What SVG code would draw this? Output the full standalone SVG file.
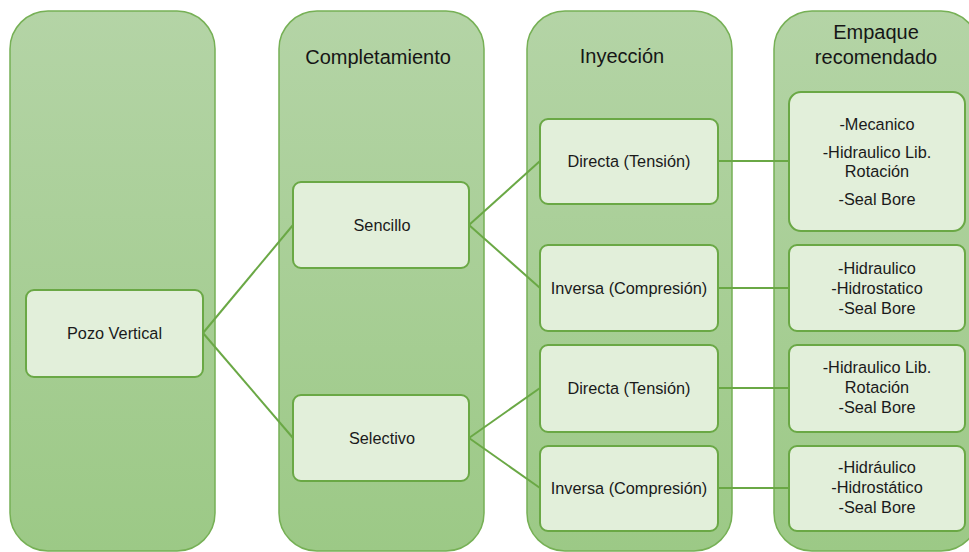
<svg xmlns="http://www.w3.org/2000/svg" width="969" height="552" viewBox="0 0 969 552">
<defs>
<linearGradient id="g" x1="0" y1="0" x2="0" y2="1">
<stop offset="0" stop-color="#b4d4a6"/>
<stop offset="1" stop-color="#9cc986"/>
</linearGradient>
<style>
.col{fill:url(#g);stroke:#76b055;stroke-width:1.5}
.node{fill:#e2efda;stroke:#6aa845;stroke-width:2}
.t{font-family:"Liberation Sans",Arial,sans-serif;font-size:16.3px;fill:#1a1a1a;text-anchor:middle}
.h{font-family:"Liberation Sans",Arial,sans-serif;font-size:20px;fill:#161616;text-anchor:middle}
.c{stroke:#6aa845;stroke-width:2;fill:none}
</style>
</defs>
<rect width="969" height="552" fill="#ffffff"/>
<g id="columns">
<rect class="col" x="10" y="11" width="205" height="540" rx="38"/>
<rect class="col" x="279" y="11" width="205" height="540" rx="38"/>
<rect class="col" x="527" y="11" width="205" height="540" rx="38"/>
<rect class="col" x="774" y="11" width="205" height="540" rx="38"/>
<text class="h" x="378" y="64">Completamiento</text>
<text class="h" x="622" y="63">Inyección</text>
<text class="h" x="876" y="39">Empaque</text>
<text class="h" x="876" y="64">recomendado</text>
</g>
<g id="connectors">
<line class="c" x1="203" y1="333" x2="293" y2="225"/>
<line class="c" x1="203" y1="333" x2="293" y2="438"/>
<line class="c" x1="469" y1="225" x2="540" y2="161"/>
<line class="c" x1="469" y1="225" x2="540" y2="288"/>
<line class="c" x1="469" y1="438" x2="540" y2="388"/>
<line class="c" x1="469" y1="438" x2="540" y2="488"/>
<line class="c" x1="718" y1="161" x2="789" y2="161"/>
<line class="c" x1="718" y1="288" x2="789" y2="288"/>
<line class="c" x1="718" y1="388" x2="789" y2="388"/>
<line class="c" x1="718" y1="488" x2="789" y2="488"/>
</g>
<g id="pozo">
<rect class="node" x="26" y="290" width="177" height="87" rx="8"/>
<text class="t" x="114.5" y="339">Pozo Vertical</text>
</g>
<g id="sencillo">
<rect class="node" x="293" y="182" width="176" height="86" rx="8"/>
<text class="t" x="382" y="231">Sencillo</text>
</g>
<g id="selectivo">
<rect class="node" x="293" y="395" width="176" height="86" rx="8"/>
<text class="t" x="382" y="444">Selectivo</text>
</g>
<g id="directa1">
<rect class="node" x="540" y="119" width="178" height="85" rx="8"/>
<text class="t" x="629" y="167">Directa (Tensión)</text>
</g>
<g id="inversa1">
<rect class="node" x="540" y="245" width="178" height="86" rx="8"/>
<text class="t" x="629" y="294">Inversa (Compresión)</text>
</g>
<g id="directa2">
<rect class="node" x="540" y="345" width="178" height="87" rx="8"/>
<text class="t" x="629" y="394">Directa (Tensión)</text>
</g>
<g id="inversa2">
<rect class="node" x="540" y="446" width="178" height="85" rx="8"/>
<text class="t" x="629" y="494">Inversa (Compresión)</text>
</g>
<g id="empaque1">
<rect class="node" x="789" y="92" width="176" height="139" rx="12"/>
<text class="t" x="877" y="130">-Mecanico</text>
<text class="t" x="877" y="158">-Hidraulico Lib.</text>
<text class="t" x="877" y="177">Rotación</text>
<text class="t" x="877" y="205">-Seal Bore</text>
</g>
<g id="empaque2">
<rect class="node" x="789" y="245" width="176" height="86" rx="8"/>
<text class="t" x="877" y="274">-Hidraulico</text>
<text class="t" x="877" y="294">-Hidrostatico</text>
<text class="t" x="877" y="314">-Seal Bore</text>
</g>
<g id="empaque3">
<rect class="node" x="789" y="345" width="176" height="87" rx="8"/>
<text class="t" x="877" y="373">-Hidraulico Lib.</text>
<text class="t" x="877" y="393">Rotación</text>
<text class="t" x="877" y="413">-Seal Bore</text>
</g>
<g id="empaque4">
<rect class="node" x="789" y="446" width="176" height="85" rx="8"/>
<text class="t" x="877" y="473">-Hidráulico</text>
<text class="t" x="877" y="493">-Hidrostático</text>
<text class="t" x="877" y="513">-Seal Bore</text>
</g>
</svg>
